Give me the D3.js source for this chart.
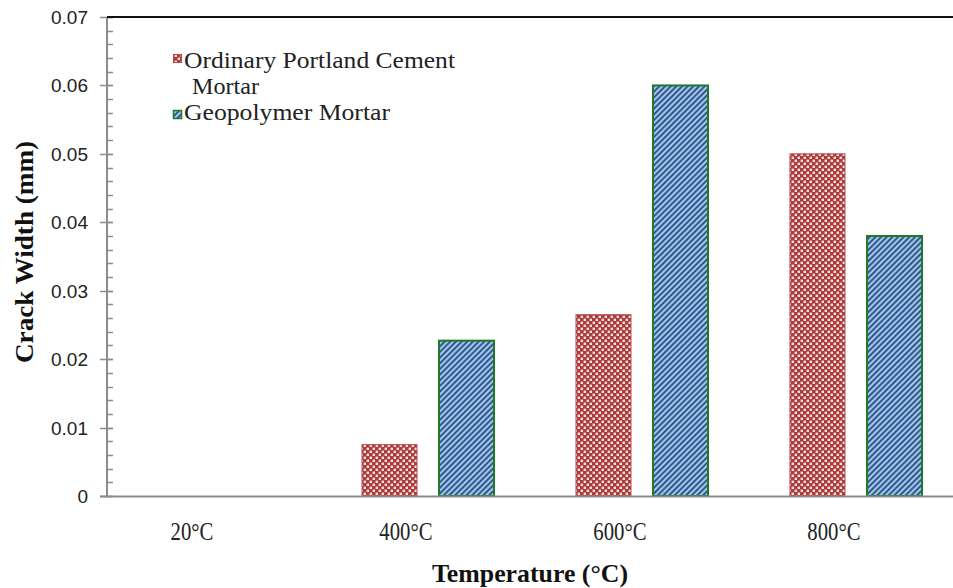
<!DOCTYPE html>
<html>
<head>
<meta charset="UTF-8">
<script src="https://cdn.jsdelivr.net/npm/d3@7"></script>
<style>
body { margin: 0; background: #fff; }
svg { display: block; }
</style>
</head>
<body>
<div id="chart"></div>
<script>
// data
const categories = ["20\u00B0C", "400\u00B0C", "600\u00B0C", "800\u00B0C"];
const seriesNames = ["Ordinary Portland Cement Mortar", "Geopolymer Mortar"];
const opcValues = [0, 0.0075, 0.0265, 0.0500];
const geoValues = [0, 0.0227, 0.0600, 0.0380];
const yTicks = [0, 0.01, 0.02, 0.03, 0.04, 0.05, 0.06, 0.07];

const W = 953, H = 588;
const plot = {left: 107, top: 17, bottom: 496, right: 963};
const serif = "'Liberation Serif', 'Times New Roman', serif";

const svg = d3.select("#chart").append("svg")
    .attr("width", W)
    .attr("height", H);

// squeeze or stretch a text to a given width (the source uses a narrow Times)
function fit(sel, w) {
    sel.attr("textLength", w).attr("lengthAdjust", "spacingAndGlyphs");
}
function condense(sel, k) {
    sel.each(function() {
        d3.select(this).call(fit, this.getComputedTextLength() * k);
    });
}

const defs = svg.append("defs");

// red checker fill
const chk = defs.append("pattern")
    .attr("id", "checker")
    .attr("patternUnits", "userSpaceOnUse")
    .attr("width", 6).attr("height", 6);
chk.append("rect").attr("width", 6).attr("height", 6).attr("fill", "#ac3c3c");
chk.append("rect").attr("x", 0.6).attr("y", 0.6).attr("width", 2.4).attr("height", 2.4).attr("fill", "#f7e2e2");
chk.append("rect").attr("x", 3.6).attr("y", 3.6).attr("width", 2.4).attr("height", 2.4).attr("fill", "#f7e2e2");

// blue diagonal stripes
const str = defs.append("pattern")
    .attr("id", "stripes")
    .attr("patternUnits", "userSpaceOnUse")
    .attr("width", 4).attr("height", 4)
    .attr("patternTransform", "rotate(45)");
str.append("rect").attr("width", 4).attr("height", 4).attr("fill", "#a9c4e6");
str.append("rect").attr("width", 2).attr("height", 4).attr("fill", "#2c5b93");

const fills = ["url(#checker)", "url(#stripes)"];
const strokes = ["#b54a4a", "#1f7a25"];
const strokeW = [1, 2];

const x = d3.scaleBand()
    .domain(categories)
    .range([plot.left, plot.right]);

const x1 = d3.scaleBand()
    .domain([0, 1])
    .range([0, x.bandwidth()])
    .paddingInner(0.286)
    .paddingOuter(0.532);

const y = d3.scaleLinear()
    .domain([0, 0.07])
    .range([plot.bottom, plot.top]);

// bars
const rows = categories.map(function(c, i) {
    return { cat: c, vals: [opcValues[i], geoValues[i]] };
});

const groups = svg.selectAll(".grp")
    .data(rows)
  .enter().append("g")
    .attr("class", "grp")
    .attr("transform", function(d) { return "translate(" + x(d.cat) + ",0)"; });

groups.selectAll("rect")
    .data(function(d) { return d.vals.map(function(v, s) { return { v: v, s: s }; }).filter(function(e) { return e.v > 0; }); })
  .enter().append("rect")
    .attr("x", function(d) { return x1(d.s); })
    .attr("width", x1.bandwidth())
    .attr("y", function(d) { return y(d.v); })
    .attr("height", function(d) { return y(0) - y(d.v); })
    .attr("fill", function(d) { return fills[d.s]; })
    .attr("stroke", function(d) { return strokes[d.s]; })
    .attr("stroke-width", function(d) { return strokeW[d.s]; });

// y axis with minor ticks
const minor = d3.range(0, 0.0701, 0.002);
svg.append("g").selectAll("line")
    .data(minor)
  .enter().append("line")
    .attr("x1", plot.left).attr("x2", plot.left + 6)
    .attr("y1", function(d) { return Math.round(y(d)) + 0.5; })
    .attr("y2", function(d) { return Math.round(y(d)) + 0.5; })
    .attr("stroke", "#8c8c8c").attr("stroke-width", 1.5);

svg.append("g").selectAll("line")
    .data(yTicks)
  .enter().append("line")
    .attr("x1", plot.left - 7).attr("x2", plot.left + 6)
    .attr("y1", function(d) { return Math.round(y(d)) + 0.5; })
    .attr("y2", function(d) { return Math.round(y(d)) + 0.5; })
    .attr("stroke", "#8c8c8c").attr("stroke-width", 1.5);

svg.append("line")
    .attr("x1", plot.left).attr("x2", plot.left)
    .attr("y1", plot.top).attr("y2", plot.bottom + 1)
    .attr("stroke", "#8c8c8c").attr("stroke-width", 2);

// x baseline
svg.append("line")
    .attr("x1", plot.left - 7).attr("x2", W)
    .attr("y1", plot.bottom + 0.5).attr("y2", plot.bottom + 0.5)
    .attr("stroke", "#8c8c8c").attr("stroke-width", 2);

// top border
svg.append("line")
    .attr("x1", plot.left).attr("x2", W)
    .attr("y1", plot.top).attr("y2", plot.top)
    .attr("stroke", "#111").attr("stroke-width", 2);

svg.append("g").selectAll("text")
    .data(yTicks)
  .enter().append("text")
    .attr("x", 88)
    .attr("y", function(d) { return y(d) + 7; })
    .attr("text-anchor", "end")
    .style("font", "19px 'Liberation Sans', Arial, sans-serif")
    .attr("fill", "#222")
    .text(function(d) { return d === 0 ? "0" : d.toFixed(2); });

// x labels
svg.append("g").selectAll("text")
    .data(categories)
  .enter().append("text")
    .attr("x", function(d) { return x(d) + x.bandwidth() / 2 - 22; })
    .attr("y", 540)
    .attr("text-anchor", "middle")
    .style("font", "25px " + serif)
    .attr("fill", "#222")
    .text(function(d) { return d; })
    .call(condense, 0.83);

// axis titles
svg.append("text")
    .attr("x", 530).attr("y", 582)
    .attr("text-anchor", "middle")
    .style("font", "bold 25px " + serif)
    .attr("fill", "#111")
    .text("Temperature  (\u00B0C)")
    .call(fit, 196);

svg.append("text")
    .attr("transform", "translate(33,252) rotate(-90)")
    .attr("text-anchor", "middle")
    .style("font", "bold 26px " + serif)
    .attr("fill", "#111")
    .text("Crack Width  (mm)")
    .call(fit, 222);

// legend
const legend = svg.append("g");
legend.append("rect")
    .attr("x", 173.5).attr("y", 54.5).attr("width", 8).attr("height", 8)
    .attr("fill", fills[0]).attr("stroke", strokes[0]).attr("stroke-width", 1);
legend.append("rect")
    .attr("x", 173.5).attr("y", 110.5).attr("width", 8).attr("height", 8)
    .attr("fill", fills[1]).attr("stroke", strokes[1]).attr("stroke-width", 1.5);

const lf = "23px " + serif;
legend.append("text")
    .attr("x", 184).attr("y", 68)
    .style("font", lf).attr("fill", "#222")
    .text("Ordinary Portland Cement")
    .call(fit, 271);
legend.append("text")
    .attr("x", 192).attr("y", 94)
    .style("font", lf).attr("fill", "#222")
    .text("Mortar")
    .call(fit, 67);
legend.append("text")
    .attr("x", 184).attr("y", 120)
    .style("font", lf).attr("fill", "#222")
    .text(seriesNames[1])
    .call(fit, 206);
</script>
</body>
</html>
